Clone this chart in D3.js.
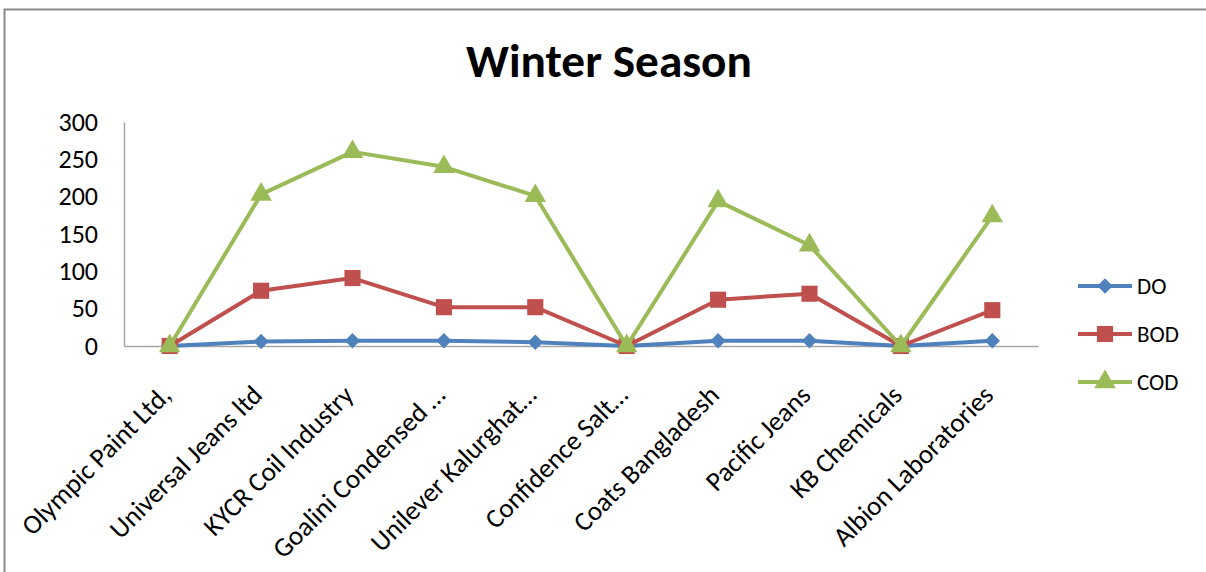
<!DOCTYPE html>
<html><head><meta charset="utf-8">
<script src="https://cdn.jsdelivr.net/npm/d3@7"></script>
<style>body{margin:0;background:#fff}svg{display:block}</style>
</head><body>
<svg id="c" width="1206" height="572"></svg>
<script>
const categories = ["Olympic Paint Ltd,","Universal Jeans ltd","KYCR Coil Industry","Goalini Condensed …","Unilever Kalurghat…","Confidence Salt…","Coats Bangladesh","Pacific Jeans","KB Chemicals","Albion Laboratories"];
const doValues  = [0, 6, 7, 7, 5, 0, 7, 7, 0, 7];
const bodValues = [0, 74, 91, 52, 52, 0, 62, 70, 0, 48];
const codValues = [0, 203, 260, 240, 201, 0, 194, 135, 0, 174];
const seriesNames = ["DO","BOD","COD"];
const yTicks = [0,50,100,150,200,250,300];
const title = "Winter Season";

const colors = {DO:"#4F81BD", BOD:"#C0504D", COD:"#9BBB59"};
const symbols = {DO:d3.symbolDiamond2, BOD:d3.symbolSquare, COD:d3.symbolTriangle};
const valuesBy = {DO:doValues, BOD:bodValues, COD:codValues};
const series = seriesNames.map(n => ({name:n, values:valuesBy[n], sym:symbols[n]}));
const font = "Carlito, Calibri, 'Open Sans', 'Noto Sans', sans-serif";
const svg = d3.select("#c");

// frame
svg.append("path").attr("d","M4.5,1206 V9.5 H1206").attr("fill","none").attr("stroke","#8a8a8a").attr("stroke-width",2);

const x0 = 124, x1 = 1038, yTop = 122, yBot = 346;
const x = d3.scaleBand().domain(categories).range([x0,x1]);
const y = d3.scaleLinear().domain([0,300]).range([yBot,yTop]);
const cx = c => x(c) + x.bandwidth()/2;

// title
const t = svg.append("text").attr("x",609).attr("y",77).attr("text-anchor","middle")
  .attr("font-family",font).attr("font-weight","bold").attr("font-size",38).attr("fill","#000").text(title);
const tw = t.node().getComputedTextLength();
t.attr("font-size", 38*286/tw);

// y axis
const ya = svg.append("g").attr("transform",`translate(${x0},0)`)
  .call(d3.axisLeft(y).tickValues(yTicks).tickSize(0).tickPadding(26));
ya.select(".domain").attr("stroke","#a6a6a6").attr("stroke-width",1.5);
ya.selectAll("text").attr("font-family",font).attr("font-size",26).attr("fill","#000");

// x axis
const xa = svg.append("g").attr("transform",`translate(0,${yBot})`)
  .call(d3.axisBottom(x).tickSize(0).tickFormat(""));
xa.select(".domain").attr("stroke","#a6a6a6").attr("stroke-width",1.5);
svg.append("g").selectAll("text").data(categories).join("text")
  .attr("transform", d => `translate(${cx(d)-11},${yBot+37}) rotate(-45)`)
  .attr("text-anchor","end").attr("dy","0.72em")
  .attr("font-family",font).attr("font-size",27).attr("fill","#000").text(d=>d);

// lines
const line = d3.line().x((v,i)=>cx(categories[i])).y(v=>y(v));
const symSize = {DO:150, BOD:260, COD:200};
series.forEach(s=>{
  const g = svg.append("g");
  g.append("path").attr("d",line(s.values)).attr("fill","none").attr("stroke",colors[s.name]).attr("stroke-width",4).attr("stroke-linejoin","round");
  g.selectAll("path.m").data(s.values).join("path").attr("class","m")
    .attr("transform",(v,i)=>`translate(${cx(categories[i])},${y(v)})`)
    .attr("d",d3.symbol().type(s.sym).size(symSize[s.name])).attr("fill",colors[s.name]);
});

// legend
const lg = svg.append("g");
series.forEach((s,i)=>{
  const ly = 286 + i*48;
  lg.append("line").attr("x1",1078).attr("x2",1132).attr("y1",ly).attr("y2",ly).attr("stroke",colors[s.name]).attr("stroke-width",4);
  lg.append("path").attr("transform",`translate(1105,${ly})`).attr("d",d3.symbol().type(s.sym).size(symSize[s.name])).attr("fill",colors[s.name]);
  lg.append("text").attr("x",1137).attr("y",ly).attr("dy","0.35em").attr("font-family",font).attr("font-size",23).attr("fill","#000").text(s.name);
});
</script>
</body></html>
